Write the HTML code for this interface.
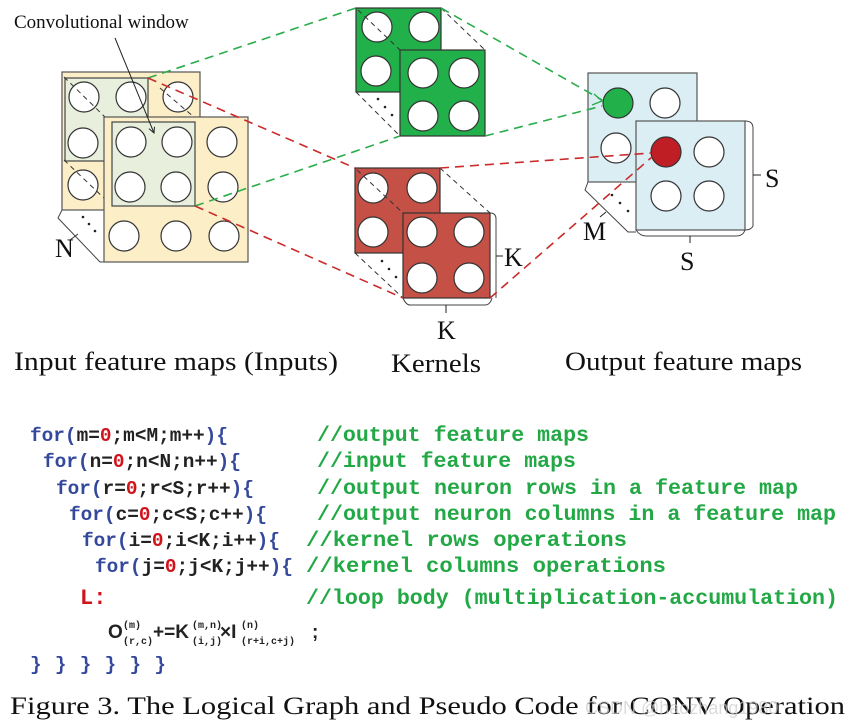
<!DOCTYPE html>
<html><head><meta charset="utf-8"><style>
html,body{margin:0;padding:0;background:#fff;}
svg{display:block;}
.m{font-family:"Liberation Mono",monospace;font-weight:bold;font-size:19.3px;}
.b{fill:#34489c;} .k{fill:#222;} .r{fill:#d0141c;} .g{fill:#22a845;font-size:21.5px;}
.s{font-family:"Liberation Serif",serif;fill:#111;}
</style></head><body>
<svg width="857" height="726" viewBox="0 0 857 726" xmlns="http://www.w3.org/2000/svg">
<defs><marker id="ah" markerWidth="8" markerHeight="8" refX="6" refY="3" orient="auto"><path d="M0,0 L6,3 L0,6" fill="none" stroke="#222" stroke-width="1"/></marker></defs>
<!-- INPUT -->
<path d="M62,210 L58,218 L100,262 L106,262" fill="none" stroke="#444" stroke-width="1"/>
<rect x="62" y="72" width="138" height="138" fill="#fcefc8" stroke="#555" stroke-width="1.2"/>
<rect x="65" y="78" width="83" height="83" fill="#e8efdc" stroke="#444" stroke-width="1.2"/>
<g fill="#fff" stroke="#333" stroke-width="1.2">
<circle cx="84" cy="97" r="15"/><circle cx="131" cy="97" r="15"/><circle cx="178" cy="97" r="15"/>
<circle cx="83" cy="143" r="15"/><circle cx="83" cy="185" r="15"/></g>
<g stroke="#333" stroke-width="1" stroke-dasharray="5,4" fill="none">
<line x1="64" y1="77" x2="106" y2="118"/><line x1="160" y1="88" x2="195" y2="118"/><line x1="64" y1="160" x2="106" y2="200"/>
</g>
<g fill="#222"><circle cx="83" cy="217" r="1.3"/><circle cx="89" cy="224" r="1.3"/><circle cx="95" cy="231" r="1.3"/></g>
<rect x="104" y="117" width="144" height="145" fill="#fcefc8" stroke="#555" stroke-width="1.2"/>
<rect x="112" y="122" width="83" height="84" fill="#e8efdc" stroke="#444" stroke-width="1.2"/>
<g fill="#fff" stroke="#333" stroke-width="1.2">
<circle cx="131" cy="142" r="15"/><circle cx="177" cy="142" r="15"/><circle cx="222" cy="142" r="15"/>
<circle cx="130" cy="187" r="15"/><circle cx="176" cy="187" r="15"/><circle cx="223" cy="187" r="15"/>
<circle cx="124" cy="236" r="15"/><circle cx="176" cy="236" r="15"/><circle cx="224" cy="236" r="15"/></g>
<text x="55" y="257" class="s" font-family="Liberation Serif,serif" font-size="26">N</text>
<line x1="70" y1="240" x2="78" y2="234" stroke="#333"/>
<text x="14" y="28" class="s" font-family="Liberation Serif,serif" font-size="19">Convolutional window</text>
<line x1="115" y1="38" x2="154" y2="133" stroke="#222" stroke-width="1" marker-end="url(#ah)"/>
<!-- GREEN KERNEL -->
<path d="M356,92 L400,136 M441,8 L485,50" stroke="#333" stroke-dasharray="5,4" fill="none"/>
<rect x="356" y="8" width="85" height="84" fill="#22b04a" stroke="#333" stroke-width="1.2"/>
<g fill="#fff" stroke="#333" stroke-width="1.2"><circle cx="377" cy="27" r="15"/><circle cx="424" cy="27" r="15"/><circle cx="376" cy="71" r="15"/></g>
<line x1="358" y1="10" x2="400" y2="50" stroke="#333" stroke-dasharray="5,4"/>
<g fill="#222"><circle cx="378" cy="99" r="1.3"/><circle cx="385" cy="107" r="1.3"/><circle cx="392" cy="115" r="1.3"/></g>
<rect x="400" y="50" width="85" height="86" fill="#22b04a" stroke="#333" stroke-width="1.2"/>
<g fill="#fff" stroke="#333" stroke-width="1.2"><circle cx="423" cy="73" r="15"/><circle cx="464" cy="73" r="15"/><circle cx="423" cy="116" r="15"/><circle cx="464" cy="116" r="15"/></g>
<!-- RED KERNEL -->
<path d="M355,253 L403,298 M440,168 L490,213" stroke="#333" stroke-dasharray="5,4" fill="none"/>
<rect x="355" y="168" width="85" height="85" fill="#c55046" stroke="#333" stroke-width="1.2"/>
<g fill="#fff" stroke="#333" stroke-width="1.2"><circle cx="373" cy="188" r="15"/><circle cx="422" cy="188" r="15"/><circle cx="373" cy="232" r="15"/></g>
<line x1="357" y1="170" x2="403" y2="213" stroke="#333" stroke-dasharray="5,4"/>
<g fill="#222"><circle cx="382" cy="261" r="1.3"/><circle cx="389" cy="269" r="1.3"/><circle cx="396" cy="277" r="1.3"/></g>
<rect x="403" y="213" width="87" height="85" fill="#c55046" stroke="#333" stroke-width="1.2"/>
<g fill="#fff" stroke="#333" stroke-width="1.2"><circle cx="422" cy="232" r="15"/><circle cx="469" cy="232" r="15"/><circle cx="422" cy="278" r="15"/><circle cx="469" cy="278" r="15"/></g>
<path d="M490,213 Q496,213 496,219 L496,298 M403,298 Q406,305 410,305 L485,305 Q490,305 492,298" fill="none" stroke="#444"/>
<line x1="496" y1="256" x2="503" y2="256" stroke="#222"/><line x1="446" y1="305" x2="446" y2="313" stroke="#222"/>
<text x="504" y="266" class="s" font-family="Liberation Serif,serif" font-size="26">K</text>
<text x="437" y="339" class="s" font-family="Liberation Serif,serif" font-size="26">K</text>
<!-- OUTPUT -->
<path d="M588,182 L585,190 L628,232 L636,232" fill="none" stroke="#444"/>
<rect x="588" y="73" width="109" height="109" fill="#daeef4" stroke="#555" stroke-width="1.2"/>
<circle cx="618" cy="103" r="15" fill="#22b04a" stroke="#333" stroke-width="1.2"/>
<g fill="#fff" stroke="#333" stroke-width="1.2"><circle cx="665" cy="103" r="15"/><circle cx="616" cy="148" r="15"/></g>
<g fill="#222"><circle cx="612" cy="195" r="1.3"/><circle cx="620" cy="203" r="1.3"/><circle cx="628" cy="211" r="1.3"/></g>
<rect x="636" y="121" width="109" height="109" fill="#daeef4" stroke="#555" stroke-width="1.2"/>
<circle cx="666" cy="152" r="15" fill="#be1e24" stroke="#333" stroke-width="1.2"/>
<g fill="#fff" stroke="#333" stroke-width="1.2"><circle cx="709" cy="152" r="15"/><circle cx="666" cy="196" r="15"/><circle cx="709" cy="196" r="15"/></g>
<path d="M745,121 Q753,121 753,128 L753,226 Q751,230 745,230 M636,230 Q640,236 646,236 L736,236 Q743,236 745,230" fill="none" stroke="#444"/>
<line x1="753" y1="175" x2="761" y2="175" stroke="#222"/><line x1="690" y1="236" x2="690" y2="243" stroke="#222"/>
<line x1="600" y1="217" x2="606" y2="212" stroke="#222"/>
<text x="765" y="187" class="s" font-family="Liberation Serif,serif" font-size="26">S</text>
<text x="680" y="270" class="s" font-family="Liberation Serif,serif" font-size="26">S</text>
<text x="583" y="240" class="s" font-family="Liberation Serif,serif" font-size="26">M</text>
<!-- connectors -->
<g fill="none" stroke-width="1.6" stroke-dasharray="9,6">
<path d="M148,78 L356,8 M195,206 L400,136 M441,8 L602,100 M485,136 L602,106" stroke="#2aad4a"/>
<path d="M148,78 L355,168 M195,206 L403,298 M440,168 L651,153 M490,298 L652,157" stroke="#cc2a2a"/>
</g>
<path d="M594,94 L602,101 L592,105" fill="none" stroke="#2aad4a" stroke-width="1.4"/>
<!-- labels -->
<text x="14" y="370" class="s" font-family="Liberation Serif,serif" font-size="26" textLength="324" lengthAdjust="spacingAndGlyphs">Input feature maps  (Inputs)</text>
<text x="391" y="372" class="s" font-family="Liberation Serif,serif" font-size="26" textLength="90" lengthAdjust="spacingAndGlyphs">Kernels</text>
<text x="565" y="370" class="s" font-family="Liberation Serif,serif" font-size="26" textLength="237" lengthAdjust="spacingAndGlyphs">Output feature maps</text>
<!-- code -->
<g class="m">
<text x="30" y="441" textLength="198" lengthAdjust="spacingAndGlyphs"><tspan class="b">for(</tspan><tspan class="k">m=</tspan><tspan class="r">0</tspan><tspan class="k">;m&lt;M;m++</tspan><tspan class="b">){</tspan></text>
<text x="43" y="467" textLength="198" lengthAdjust="spacingAndGlyphs"><tspan class="b">for(</tspan><tspan class="k">n=</tspan><tspan class="r">0</tspan><tspan class="k">;n&lt;N;n++</tspan><tspan class="b">){</tspan></text>
<text x="56" y="494" textLength="198" lengthAdjust="spacingAndGlyphs"><tspan class="b">for(</tspan><tspan class="k">r=</tspan><tspan class="r">0</tspan><tspan class="k">;r&lt;S;r++</tspan><tspan class="b">){</tspan></text>
<text x="69" y="520" textLength="198" lengthAdjust="spacingAndGlyphs"><tspan class="b">for(</tspan><tspan class="k">c=</tspan><tspan class="r">0</tspan><tspan class="k">;c&lt;S;c++</tspan><tspan class="b">){</tspan></text>
<text x="82" y="546" textLength="198" lengthAdjust="spacingAndGlyphs"><tspan class="b">for(</tspan><tspan class="k">i=</tspan><tspan class="r">0</tspan><tspan class="k">;i&lt;K;i++</tspan><tspan class="b">){</tspan></text>
<text x="95" y="572" textLength="198" lengthAdjust="spacingAndGlyphs"><tspan class="b">for(</tspan><tspan class="k">j=</tspan><tspan class="r">0</tspan><tspan class="k">;j&lt;K;j++</tspan><tspan class="b">){</tspan></text>
<text x="317" y="441" class="g" textLength="272" lengthAdjust="spacingAndGlyphs">//output feature maps</text>
<text x="317" y="467" class="g" textLength="259" lengthAdjust="spacingAndGlyphs">//input feature maps</text>
<text x="317" y="494" class="g" textLength="481" lengthAdjust="spacingAndGlyphs">//output neuron rows in a feature map</text>
<text x="317" y="520" class="g" textLength="519" lengthAdjust="spacingAndGlyphs">//output neuron columns in a feature map</text>
<text x="306" y="546" class="g" textLength="321" lengthAdjust="spacingAndGlyphs">//kernel rows operations</text>
<text x="306" y="572" class="g" textLength="360" lengthAdjust="spacingAndGlyphs">//kernel columns operations</text>
<text x="306" y="604" class="g" textLength="532" lengthAdjust="spacingAndGlyphs">//loop body (multiplication-accumulation)</text>
<text x="80" y="604" class="r" font-size="22">L:</text>
<text x="30" y="670" class="b" textLength="136" lengthAdjust="spacing">} } } } } }</text>
</g>
<g font-family="Liberation Sans,sans-serif" font-weight="bold" fill="#222">
<text x="108" y="638" font-size="19">O</text>
<text x="123" y="628" font-size="10" font-family="Liberation Mono,monospace">(m)</text>
<text x="123" y="644" font-size="10" font-family="Liberation Mono,monospace">(r,c)</text>
<text x="153" y="638" font-size="19">+=K</text>
<text x="192" y="628" font-size="10" font-family="Liberation Mono,monospace">(m,n)</text>
<text x="192" y="644" font-size="10" font-family="Liberation Mono,monospace">(i,j)</text>
<text x="220" y="638" font-size="19">×I</text>
<text x="241" y="628" font-size="10" font-family="Liberation Mono,monospace">(n)</text>
<text x="241" y="644" font-size="10" font-family="Liberation Mono,monospace">(r+i,c+j)</text>
<text x="312" y="638" font-size="19">;</text>
</g>
<text x="10" y="714" class="s" font-family="Liberation Serif,serif" font-size="25" textLength="835" lengthAdjust="spacingAndGlyphs">Figure 3. The Logical Graph and Pseudo Code for CONV Operation</text>
<text x="585" y="714" font-family="Liberation Sans,sans-serif" font-size="18" fill="#ccc" opacity="0.7">CSDN @haozhang1980</text>
</svg>
</body></html>
